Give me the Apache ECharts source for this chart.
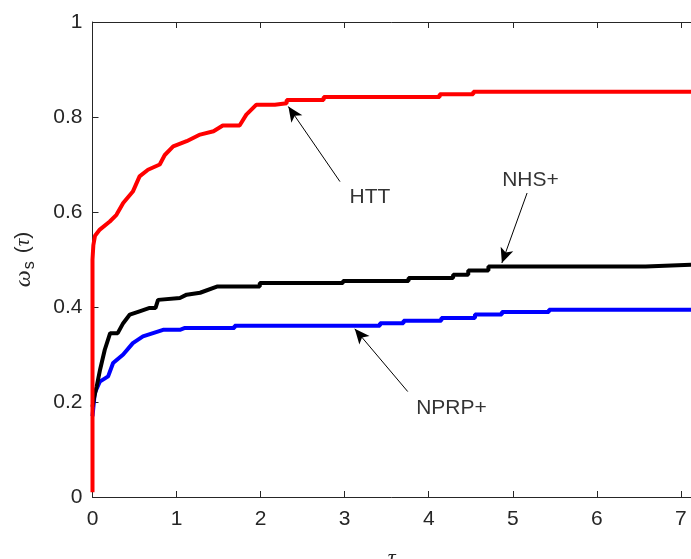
<!DOCTYPE html>
<html>
<head>
    <meta charset="UTF-8">
    <title>Performance profile</title>
</head>
<body style="margin: 0;overflow: hidden;background: #fff;">
<div id="chart" style="width: 691px;height: 559px"></div>

<script type="text/javascript" src="https://cdn.jsdelivr.net/npm/echarts@6/dist/echarts.min.js"></script>
<script type="text/javascript">
    // curve vertices (repeated x = vertical step)
    var httX = [0, 0, 0.01, 0.03, 0.087, 0.206, 0.285, 0.365, 0.48, 0.56, 0.66, 0.80, 0.86, 0.96, 1.12, 1.28, 1.44, 1.55, 1.75, 1.83, 1.95, 2.17, 2.17, 2.31, 2.31, 2.75, 2.75, 4.13, 4.13, 4.53, 4.53, 7.12];
    var httY = [0.01, 0.50, 0.53, 0.55, 0.563, 0.580, 0.594, 0.619, 0.643, 0.675, 0.689, 0.70, 0.72, 0.738, 0.749, 0.763, 0.770, 0.782, 0.782, 0.805, 0.826, 0.826, 0.829, 0.829, 0.836, 0.836, 0.842, 0.842, 0.848, 0.848, 0.853, 0.853];
    var nhsX = [0, 0.02, 0.05, 0.09, 0.146, 0.21, 0.30, 0.365, 0.444, 0.56, 0.68, 0.75, 0.78, 1.04, 1.12, 1.28, 1.48, 1.99, 1.99, 2.98, 2.98, 3.76, 3.76, 4.29, 4.29, 4.47, 4.47, 4.71, 4.71, 6.58, 6.58, 7.12];
    var nhsY = [0.19, 0.21, 0.233, 0.268, 0.31, 0.345, 0.345, 0.366, 0.384, 0.391, 0.398, 0.398, 0.415, 0.419, 0.426, 0.43, 0.443, 0.443, 0.4505, 0.4505, 0.455, 0.455, 0.461, 0.461, 0.468, 0.468, 0.477, 0.477, 0.4855, 0.4855, 0.489, 0.489];
    var nprpX = [0, 0.027, 0.087, 0.186, 0.245, 0.365, 0.48, 0.60, 0.72, 0.84, 1.04, 1.10, 1.69, 1.69, 3.42, 3.42, 3.70, 3.70, 4.15, 4.15, 4.55, 4.55, 4.87, 4.87, 5.43, 5.43, 7.12];
    var nprpY = [0.17, 0.219, 0.243, 0.254, 0.282, 0.30, 0.324, 0.338, 0.345, 0.352, 0.352, 0.356, 0.356, 0.3605, 0.3605, 0.366, 0.366, 0.371, 0.371, 0.377, 0.377, 0.384, 0.384, 0.3895, 0.3895, 0.394, 0.394];

    var xTicks = [0, 1, 2, 3, 4, 5, 6, 7];
    var yTicks = [0, 0.2, 0.4, 0.6, 0.8, 1];

    // annotation text: [x, y, text]; arrows: [tailX, tailY, tipX, tipY]
    var noteText = [[3.30, 0.632, 'HTT'], [5.21, 0.667, 'NHS+'], [4.27, 0.187, 'NPRP+']];
    var noteArrows = [[2.944, 0.664, 2.33, 0.822], [5.17, 0.64, 4.87, 0.4926], [3.75, 0.222, 3.12, 0.354]];

    function pairs(xs, ys) {
        var out = [];
        for (var i = 0; i < xs.length; i++) {
            out.push([xs[i], ys[i]]);
        }
        return out;
    }

    var font = 'Liberation Sans';
    var axisColor = '#262626';

    var chart = echarts.init(document.getElementById('chart'));
    chart.setOption({
        animation: false,
        backgroundColor: '#fff',
        grid: {left: 92.5, right: 0, top: 22, bottom: 62, containLabel: false, outerBoundsMode: 'none'},
        xAxis: [{
            type: 'value',
            min: 0,
            max: 7.12,
            interval: 1,
            splitLine: {show: false},
            axisLine: {lineStyle: {color: axisColor}},
            axisTick: {inside: true, length: 6, lineStyle: {color: axisColor}},
            axisLabel: {
                margin: 12,
                fontFamily: font,
                fontSize: 21,
                color: axisColor,
                formatter: function (v) {
                    return xTicks.indexOf(v) >= 0 ? String(v) : '';
                }
            },
            name: 'τ',
            nameLocation: 'middle',
            nameGap: 50,
            nameTextStyle: {fontFamily: 'Liberation Serif', fontStyle: 'italic', fontSize: 22, color: axisColor}
        }, {
            type: 'value',
            position: 'top',
            min: 0,
            max: 7.12,
            interval: 1,
            splitLine: {show: false},
            axisLine: {onZero: false, lineStyle: {color: axisColor}},
            axisTick: {inside: true, length: 6, lineStyle: {color: axisColor}},
            axisLabel: {show: false}
        }],
        yAxis: {
            type: 'value',
            min: 0,
            max: 1,
            interval: 0.2,
            splitLine: {show: false},
            axisLine: {show: true, lineStyle: {color: axisColor}},
            axisTick: {show: true, inside: true, length: 6, lineStyle: {color: axisColor}},
            axisLabel: {
                margin: 10,
                fontFamily: font,
                fontSize: 21,
                color: axisColor,
                formatter: function (v) {
                    return yTicks.indexOf(v) >= 0 ? String(v) : '';
                }
            },
            name: '{w|ω}{s|s}{n| (}{t|τ}{n|)}',
            nameLocation: 'middle',
            nameGap: 55,
            nameRotate: 90,
            nameTextStyle: {
                color: axisColor,
                rich: {
                    w: {fontFamily: 'Liberation Serif', fontStyle: 'italic', fontSize: 24, color: axisColor},
                    s: {fontFamily: font, fontSize: 16, padding: [12, 2, 0, 1], color: axisColor},
                    n: {fontFamily: font, fontSize: 21, color: axisColor},
                    t: {fontFamily: 'Liberation Serif', fontStyle: 'italic', fontSize: 21, color: axisColor}
                }
            }
        },
        series: [{
            name: 'NPRP+',
            type: 'line',
            showSymbol: false,
            lineStyle: {color: '#0000ff', width: 4},
            data: pairs(nprpX, nprpY)
        }, {
            name: 'NHS+',
            type: 'line',
            showSymbol: false,
            lineStyle: {color: '#000000', width: 4},
            data: pairs(nhsX, nhsY)
        }, {
            name: 'HTT',
            type: 'line',
            showSymbol: false,
            lineStyle: {color: '#ff0000', width: 4},
            data: pairs(httX, httY)
        }, {
            name: 'notes',
            type: 'scatter',
            symbolSize: 0,
            silent: true,
            label: {
                show: true,
                position: 'inside',
                fontFamily: font,
                fontSize: 21,
                color: '#000',
                textBorderWidth: 0,
                formatter: function (p) {
                    return p.value[2];
                }
            },
            data: noteText,
            markLine: {
                silent: true,
                symbol: ['none', 'arrow'],
                symbolSize: [10, 15],
                label: {show: false},
                lineStyle: {color: '#000', width: 1, type: 'solid'},
                data: noteArrows.map(function (a) {
                    return [{coord: [a[0], a[1]]}, {coord: [a[2], a[3]]}];
                })
            }
        }]
    });
</script>
</body>
</html>
